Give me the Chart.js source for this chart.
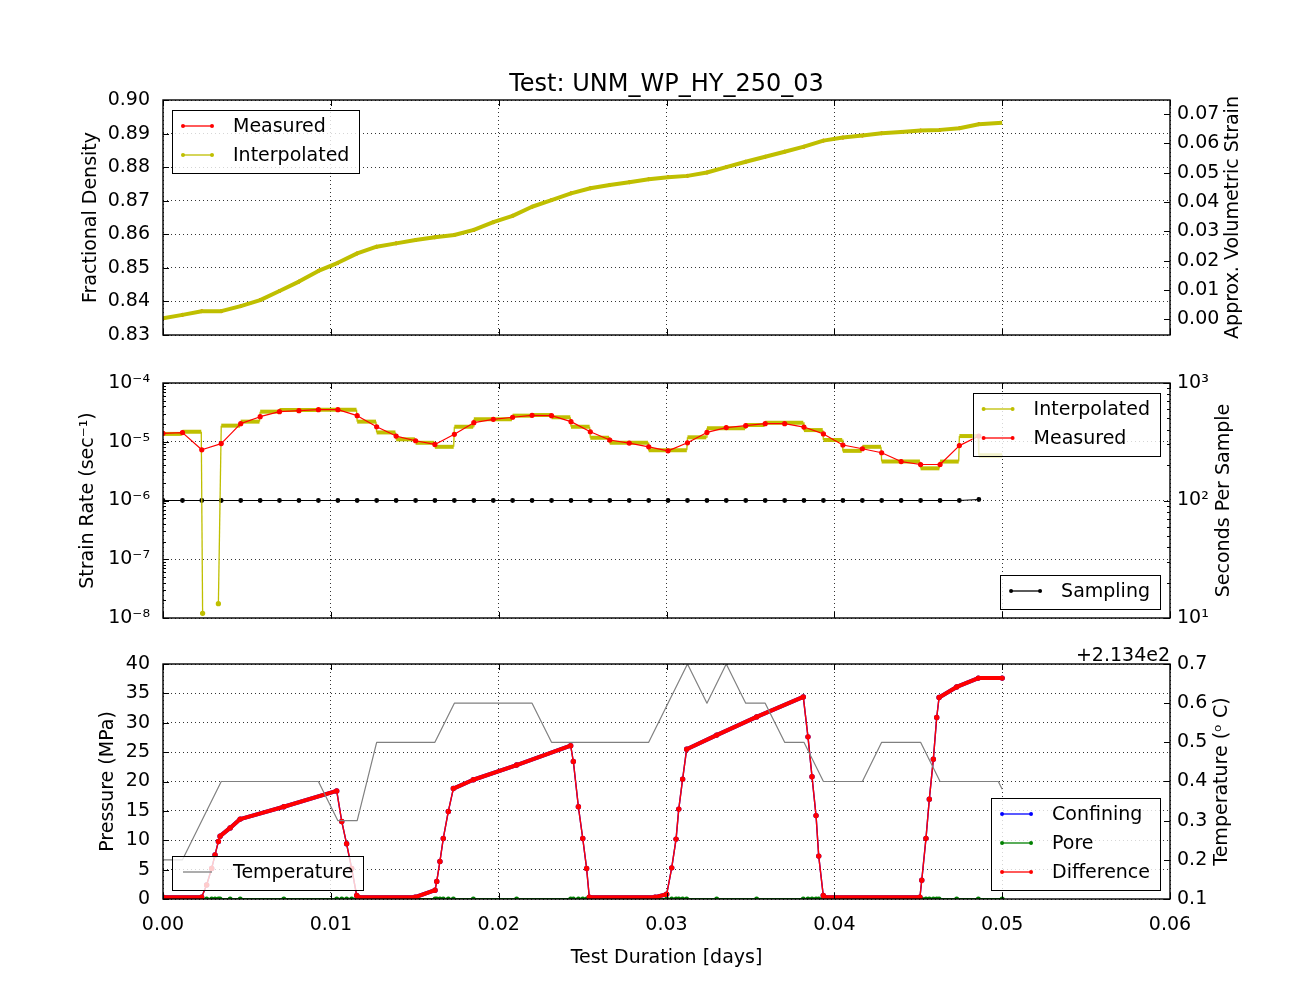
<!DOCTYPE html>
<html lang="en"><head>
<meta charset="utf-8">
<title>Test: UNM_WP_HY_250_03</title>
<script src="https://cdn.jsdelivr.net/npm/chart.js@4.4.0/dist/chart.umd.min.js"></script>
<style>
  body { margin: 0; background: #ffffff; }
  #fig { position: relative; width: 1300px; height: 1000px; background: #ffffff; }
  #fig canvas { position: absolute; left: 0; }
</style>
</head>
<body>
<div id="fig">
  <canvas id="density" width="1300" height="360" style="top:0px"></canvas>
  <canvas id="rate" width="1300" height="300" style="top:350px"></canvas>
  <canvas id="pressure" width="1300" height="370" style="top:630px"></canvas>
</div>
<script>
// ---- data ----
// measured samples (days), one every ~100 s
const timeDays = [0.00000, 0.00116, 0.00231, 0.00347, 0.00463, 0.00579, 0.00694, 0.00810, 0.00926, 0.01042,
                  0.01157, 0.01273, 0.01389, 0.01505, 0.01620, 0.01736, 0.01852, 0.01968, 0.02083, 0.02199,
                  0.02315, 0.02431, 0.02546, 0.02662, 0.02778, 0.02894, 0.03009, 0.03125, 0.03241, 0.03356,
                  0.03472, 0.03588, 0.03704, 0.03819, 0.03935, 0.04051, 0.04167, 0.04282, 0.04398, 0.04514,
                  0.04630, 0.04745, 0.04861];

// top panel: fractional density
const densityMeasured = [0.8350, 0.8360, 0.8371, 0.8371, 0.8386, 0.8404, 0.8431, 0.8459, 0.8491, 0.8515,
                         0.8543, 0.8563, 0.8573, 0.8583, 0.8591, 0.8598, 0.8613, 0.8636, 0.8655, 0.8682,
                         0.8702, 0.8722, 0.8737, 0.8747, 0.8755, 0.8764, 0.8770, 0.8774, 0.8784, 0.8800,
                         0.8816, 0.8831, 0.8846, 0.8861, 0.8879, 0.8888, 0.8894, 0.8901, 0.8905, 0.8909,
                         0.8911, 0.8916, 0.8928];
const densityTailTime = [0.05000];
const densityTail = [0.8932];

// middle panel: strain rate (1/s)
const strainRateMeasured = [1.39e-5, 1.43e-5, 7.3e-6, 9.3e-6, 2.03e-5, 2.67e-5, 3.25e-5, 3.38e-5, 3.52e-5, 3.52e-5,
                            2.78e-5, 1.80e-5, 1.25e-5, 1.04e-5, 9.0e-6, 1.34e-5, 2.11e-5, 2.41e-5, 2.61e-5, 2.82e-5,
                            2.78e-5, 2.20e-5, 1.48e-5, 1.07e-5, 9.5e-6, 8.2e-6, 7.0e-6, 9.6e-6, 1.44e-5, 1.74e-5,
                            1.88e-5, 2.03e-5, 2.03e-5, 1.78e-5, 1.36e-5, 8.8e-6, 7.6e-6, 6.5e-6, 4.6e-6, 4.1e-6,
                            4.1e-6, 8.6e-6, 1.25e-5];
// interpolated strain rate: flat steps between samples
const plateauStart = [0.00000, 0.00116, 0.00347, 0.00463, 0.00579, 0.00694, 0.00926, 0.01157, 0.01273, 0.01389,
                      0.01505, 0.01620, 0.01736, 0.01852, 0.02083, 0.02199, 0.02315, 0.02431, 0.02546, 0.02662,
                      0.02894, 0.03125, 0.03241, 0.03472, 0.03588, 0.03819, 0.03935, 0.04051, 0.04167, 0.04282,
                      0.04514, 0.04630, 0.04745, 0.04861];
const plateauEnd = [0.00112, 0.00228, 0.00459, 0.00575, 0.00690, 0.00922, 0.01153, 0.01269, 0.01385, 0.01501,
                    0.01616, 0.01732, 0.01848, 0.02079, 0.02195, 0.02311, 0.02427, 0.02542, 0.02658, 0.02890,
                    0.03121, 0.03237, 0.03468, 0.03584, 0.03815, 0.03931, 0.04047, 0.04163, 0.04278, 0.04510,
                    0.04626, 0.04741, 0.04857, 0.05000];
const plateauRate = [1.36e-5, 1.48e-5, 1.88e-5, 2.20e-5, 3.25e-5, 3.47e-5, 3.52e-5, 2.20e-5, 1.44e-5, 1.10e-5,
                     9.6e-6, 8.2e-6, 1.80e-5, 2.41e-5, 2.78e-5, 2.85e-5, 2.61e-5, 1.80e-5, 1.17e-5, 9.6e-6,
                     7.2e-6, 1.19e-5, 1.69e-5, 1.93e-5, 2.11e-5, 1.58e-5, 1.07e-5, 7.0e-6, 8.2e-6, 4.6e-6,
                     3.53e-6, 4.6e-6, 1.25e-5, 5.9e-6];
const spikeTimes = [0.00236, 0.00330];
const spikeRates = [1.2e-8, 1.75e-8];
const spikeAfterPlateau = 1;
// seconds per sample
const samplingSec = [100, 100, 100, 100, 100, 100, 100, 100, 100, 100,
                     100, 100, 100, 100, 100, 100, 100, 100, 100, 100,
                     100, 100, 100, 100, 100, 100, 100, 100, 100, 100,
                     100, 100, 100, 100, 100, 100, 100, 100, 100, 100,
                     100, 100, 102];

// bottom panel: pressures (MPa)
const pressureTimes = [0.00000, 0.00230, 0.00260, 0.00290, 0.00310, 0.00330, 0.00340, 0.00400, 0.00460, 0.00720,
                       0.01035, 0.01065, 0.01094, 0.01124, 0.01154, 0.01164, 0.01502, 0.01621, 0.01631, 0.01650,
                       0.01670, 0.01700, 0.01730, 0.01849, 0.02107, 0.02429, 0.02445, 0.02475, 0.02501, 0.02524,
                       0.02540, 0.02932, 0.03001, 0.03031, 0.03057, 0.03073, 0.03096, 0.03120, 0.03299, 0.03537,
                       0.03815, 0.03843, 0.03867, 0.03891, 0.03907, 0.03934, 0.03940, 0.04510, 0.04521, 0.04546,
                       0.04566, 0.04590, 0.04610, 0.04624, 0.04729, 0.04858, 0.05000];
const pressureConfining = [0.3, 0.3, 2.4, 5.2, 7.5, 9.8, 10.7, 12.1, 13.6, 15.7,
                           18.4, 13.2, 9.4, 5.2, 0.6, 0.3, 0.3, 1.5, 3.0, 6.4,
                           10.3, 14.9, 18.8, 20.3, 22.8, 26.1, 23.4, 15.7, 10.3, 5.2,
                           0.3, 0.3, 0.8, 5.3, 10.2, 15.3, 20.4, 25.5, 27.9, 31.0,
                           34.4, 27.6, 20.8, 14.2, 7.3, 0.6, 0.3, 0.3, 3.2, 10.3,
                           17.0, 23.8, 30.9, 34.3, 36.1, 37.6, 37.6];
const pressurePore = [0, 0, 0, 0, 0, 0, 0, 0, 0, 0,
                      0, 0, 0, 0, 0, 0, 0, 0, 0, 0,
                      0, 0, 0, 0, 0, 0, 0, 0, 0, 0,
                      0, 0, 0, 0, 0, 0, 0, 0, 0, 0,
                      0, 0, 0, 0, 0, 0, 0, 0, 0, 0,
                      0, 0, 0, 0, 0, 0, 0];
const pressureDiff = [0.3, 0.3, 2.4, 5.2, 7.5, 9.8, 10.7, 12.1, 13.6, 15.7,
                      18.4, 13.2, 9.4, 5.2, 0.6, 0.3, 0.3, 1.5, 3.0, 6.4,
                      10.3, 14.9, 18.8, 20.3, 22.8, 26.1, 23.4, 15.7, 10.3, 5.2,
                      0.3, 0.3, 0.8, 5.3, 10.2, 15.3, 20.4, 25.5, 27.9, 31.0,
                      34.4, 27.6, 20.8, 14.2, 7.3, 0.6, 0.3, 0.3, 3.2, 10.3,
                      17.0, 23.8, 30.9, 34.3, 36.1, 37.6, 37.6];
// temperature (deg C)
const tempTailTimes = [0.04977, 0.05000];
const temperatureC = [213.6, 213.6, 213.7, 213.8, 213.8, 213.8, 213.8, 213.8, 213.8, 213.7,
                      213.7, 213.9, 213.9, 213.9, 213.9, 214.0, 214.0, 214.0, 214.0, 214.0,
                      213.9, 213.9, 213.9, 213.9, 213.9, 213.9, 214.0, 214.1, 214.0, 214.1,
                      214.0, 214.0, 213.9, 213.9, 213.8, 213.8, 213.8, 213.9, 213.9, 213.9,
                      213.8, 213.8, 213.8, 213.8, 213.78];

// tick values
const xTicks = [0, 0.01, 0.02, 0.03, 0.04, 0.05, 0.06];
const densityTicks = [0.83, 0.84, 0.85, 0.86, 0.87, 0.88, 0.89, 0.90];
const strainTicks = [0, 0.01, 0.02, 0.03, 0.04, 0.05, 0.06, 0.07];
const rateTicks = [1e-8, 1e-7, 1e-6, 1e-5, 1e-4];
const sampleTicks = [10, 100, 1000];
const pressureTicks = [0, 5, 10, 15, 20, 25, 30, 35, 40];
const tempTicks = [213.5, 213.6, 213.7, 213.8, 213.9, 214.0, 214.1];
const tempOffset = 213.4;

// ---- styling ----
const FONT = '19px "DejaVu Sans", sans-serif';
const RED = '#ff0000', YEL = '#bfbf00', BLUE = '#0000ff', GREEN = '#008000', GRAY = '#808080';
Chart.defaults.font.family = '"DejaVu Sans", sans-serif';
Chart.defaults.font.size = 19;
Chart.defaults.color = '#000000';

const SUP = {'-': '\u207b', '0': '\u2070', '1': '\u00b9', '2': '\u00b2', '3': '\u00b3', '4': '\u2074',
             '5': '\u2075', '6': '\u2076', '7': '\u2077', '8': '\u2078', '9': '\u2079'};
function pow10Label(v) {
  const e = Math.round(Math.log10(v));
  return '10' + String(e).split('').map(c => SUP[c]).join('');
}
const pts = (xs, ys) => xs.map((x, i) => ({x: x, y: ys[i]}));

// matplotlib-like frame, inward ticks, legends, twin-axis title
const decorPlugin = {
  id: 'decor',
  afterDatasetsDraw(chart, args, opts) {
    const {ctx, chartArea: a, scales} = chart;
    const seg = (x1, y1, x2, y2) => { ctx.beginPath(); ctx.moveTo(x1, y1); ctx.lineTo(x2, y2); ctx.stroke(); };
    ctx.save();
    ctx.strokeStyle = '#000';
    ctx.lineWidth = 1;
    scales.x.ticks.forEach(t => {
      const px = Math.round(scales.x.getPixelForValue(t.value)) + 0.5;
      seg(px, a.bottom, px, a.bottom - 6);
      seg(px, a.top, px, a.top + 6);
    });
    Object.values(scales).forEach(s => {
      if (s.axis !== 'y') return;
      const left = s.position === 'left';
      const x0 = left ? a.left : a.right, dir = left ? 1 : -1;
      s.ticks.forEach(t => {
        const py = Math.round(s.getPixelForValue(t.value)) + 0.5;
        seg(x0, py, x0 + 6 * dir, py);
      });
      if (s.type === 'logarithmic') {
        for (let e = Math.round(Math.log10(s.min)); e < Math.round(Math.log10(s.max)); e++) {
          for (let m = 2; m <= 9; m++) {
            const py = Math.round(s.getPixelForValue(m * Math.pow(10, e))) + 0.5;
            seg(x0, py, x0 + 3 * dir, py);
          }
        }
      }
    });
    ctx.lineWidth = 1.4;
    ctx.strokeRect(a.left, a.top, a.width, a.height);

    ctx.font = FONT;
    ctx.fillStyle = '#000';
    if (opts.rightTitle) {
      ctx.save();
      ctx.translate(a.right + opts.rightTitle.offset, (a.top + a.bottom) / 2);
      ctx.rotate(-Math.PI / 2);
      ctx.textAlign = 'center';
      ctx.textBaseline = 'middle';
      ctx.fillText(opts.rightTitle.text, 0, 0);
      ctx.restore();
    }
    if (opts.offsetText) {
      ctx.textAlign = 'right';
      ctx.textBaseline = 'alphabetic';
      ctx.fillText(opts.offsetText, a.right, a.top - 3);
    }

    (opts.legends || []).forEach(lg => {
      const items = lg.items.map(i => chart.data.datasets[i]);
      ctx.font = FONT;
      const textW = Math.max(...items.map(d => ctx.measureText(d.label).width));
      const w = 61 + textW + 10, h = items.length * 29 + 5;
      const left = lg.corner[1] === 'l' ? a.left + 9 : a.right - 10 - w;
      const top = lg.corner[0] === 't' ? a.top + 10 : a.bottom - 9 - h;
      ctx.fillStyle = 'rgba(255,255,255,0.8)';
      ctx.fillRect(left, top, w, h);
      ctx.strokeStyle = '#000';
      ctx.lineWidth = 1;
      ctx.strokeRect(Math.round(left) + 0.5, Math.round(top) + 0.5, Math.round(w), Math.round(h));
      items.forEach((d, i) => {
        const cy = top + 16 + i * 29;
        ctx.strokeStyle = d.borderColor;
        ctx.lineWidth = 1.3;
        seg(left + 11, cy, left + 40, cy);
        if (d.legendDots) {
          ctx.fillStyle = d.borderColor;
          [left + 11, left + 40].forEach(px => { ctx.beginPath(); ctx.arc(px, cy, 2, 0, 2 * Math.PI); ctx.fill(); });
        }
        ctx.fillStyle = '#000';
        ctx.textAlign = 'left';
        ctx.textBaseline = 'middle';
        ctx.fillText(d.label, left + 61, cy + 1);
      });
    });
    ctx.restore();
  }
};

function xScale(showLabels, height) {
  return {
    type: 'linear', min: 0, max: 0.06,
    afterBuildTicks: s => { s.ticks = xTicks.map(v => ({value: v})); },
    afterFit: s => { s.height = height; },
    ticks: { display: showLabels, padding: 15, autoSkip: false, maxRotation: 0, callback: v => v.toFixed(2) },
    grid: { color: '#000', lineWidth: 0.8, drawTicks: false },
    border: { display: false, dash: [1, 3] },
    title: { display: showLabels, text: 'Test Duration [days]', padding: {top: 4, bottom: 4} }
  };
}
function yScale(opt) {
  const left = opt.position === 'left';
  return {
    type: opt.type || 'linear', position: opt.position, min: opt.min, max: opt.max,
    afterBuildTicks: s => { s.ticks = opt.ticks.map(v => ({value: v})); },
    afterFit: s => { s.width = opt.width; },
    ticks: { padding: left ? 13 : 7, autoSkip: false, callback: opt.label },
    grid: { display: left, color: '#000', lineWidth: 0.8, drawTicks: false },
    border: { display: false, dash: [1, 3] },
    title: { display: left && !!opt.title, text: opt.title, padding: {top: 4, bottom: 4} }
  };
}
const baseOptions = (extra) => Object.assign({
  responsive: false, animation: false, events: [],
  elements: { line: { tension: 0, borderJoinStyle: 'round' }, point: { borderWidth: 0, hoverRadius: 0 } }
}, extra);

// ---- top: fractional density ----
new Chart(document.getElementById('density'), {
  type: 'line',
  data: { datasets: [
    { label: 'Measured', data: pts(timeDays, densityMeasured), borderColor: RED, backgroundColor: RED,
      pointBackgroundColor: RED, borderWidth: 1, pointRadius: 1.5, order: 1, legendDots: true },
    { label: 'Interpolated', data: pts(timeDays.concat(densityTailTime), densityMeasured.concat(densityTail)),
      borderColor: YEL, backgroundColor: YEL, pointBackgroundColor: YEL, borderWidth: 4, pointRadius: 0,
      order: 0, legendDots: true }
  ]},
  options: baseOptions({
    layout: { padding: { left: 75.6, right: 0, top: 72, bottom: 0 } },
    scales: {
      x: xScale(false, 25),
      y: yScale({ position: 'left', min: 0.83, max: 0.90, ticks: densityTicks, width: 87.4,
                  label: v => v.toFixed(2), title: 'Fractional Density' }),
      y1: yScale({ position: 'right', min: -0.00535, max: 0.07477, ticks: strainTicks, width: 130,
                   label: v => v.toFixed(2) })
    },
    plugins: {
      legend: { display: false }, tooltip: { enabled: false },
      title: { display: true, text: 'Test: UNM_WP_HY_250_03', fullSize: false, color: '#000',
               font: { size: 24, weight: 'normal', lineHeight: 1.1 }, padding: { top: 0, bottom: 1.6 } },
      decor: { rightTitle: { text: 'Approx. Volumetric Strain', offset: 63 }, legends: [{ corner: 'tl', items: [0, 1] }] }
    }
  }),
  plugins: [decorPlugin]
});

// ---- middle: strain rate ----
const interpPoints = [];
plateauStart.forEach((s, i) => {
  interpPoints.push({x: s, y: plateauRate[i]}, {x: plateauEnd[i], y: plateauRate[i]});
  if (i === spikeAfterPlateau) {
    interpPoints.push({x: spikeTimes[0], y: spikeRates[0]}, {x: spikeTimes[0], y: null},
                      {x: spikeTimes[1], y: spikeRates[1]});
  }
});
new Chart(document.getElementById('rate'), {
  type: 'line',
  data: { datasets: [
    { label: 'Interpolated', data: interpPoints, borderColor: YEL, backgroundColor: YEL, pointBackgroundColor: YEL,
      borderWidth: 1.3, spanGaps: false, order: 1, legendDots: true,
      pointRadius: c => (c.raw && c.raw.y !== null && c.raw.y < 1e-7) ? 2 : 0,
      segment: { borderWidth: c => c.p0.parsed.y === c.p1.parsed.y ? 4 : 1.3 } },
    { label: 'Measured', data: pts(timeDays, strainRateMeasured), borderColor: RED, backgroundColor: RED,
      pointBackgroundColor: RED, borderWidth: 1.2, pointRadius: 2, order: 0, legendDots: true },
    { label: 'Sampling', yAxisID: 'y1', data: pts(timeDays, samplingSec), borderColor: '#000', backgroundColor: '#000',
      pointBackgroundColor: '#000', borderWidth: 1.2, pointRadius: 1.8, order: 2, legendDots: true }
  ]},
  options: baseOptions({
    layout: { padding: { left: 72.6, right: 0, top: 33, bottom: 0 } },
    scales: {
      x: xScale(false, 32),
      y: yScale({ type: 'logarithmic', position: 'left', min: 1e-8, max: 1e-4, ticks: rateTicks, width: 90.4,
                  label: pow10Label, title: 'Strain Rate (sec\u207b\u00b9)' }),
      y1: yScale({ type: 'logarithmic', position: 'right', min: 10, max: 1000, ticks: sampleTicks, width: 130,
                   label: pow10Label })
    },
    plugins: {
      legend: { display: false }, tooltip: { enabled: false },
      decor: { rightTitle: { text: 'Seconds Per Sample', offset: 54 },
               legends: [{ corner: 'tr', items: [0, 1] }, { corner: 'br', items: [2] }] }
    }
  }),
  plugins: [decorPlugin]
});

// ---- bottom: pressure and temperature ----
const steepThin = c => Math.abs(c.p1.y - c.p0.y) > 2 * Math.abs(c.p1.x - c.p0.x) ? 1.4 : 4;
new Chart(document.getElementById('pressure'), {
  type: 'line',
  data: { datasets: [
    { label: 'Confining', data: pts(pressureTimes, pressureConfining), borderColor: BLUE, backgroundColor: BLUE,
      pointBackgroundColor: BLUE, borderWidth: 1.4, pointRadius: 2, order: 3, legendDots: true,
      segment: { borderWidth: steepThin } },
    { label: 'Pore', data: pts(pressureTimes, pressurePore), borderColor: GREEN, backgroundColor: GREEN,
      pointBackgroundColor: GREEN, borderWidth: 2, pointRadius: 1.5, order: 2, legendDots: true },
    { label: 'Difference', data: pts(pressureTimes, pressureDiff), borderColor: RED, backgroundColor: RED,
      pointBackgroundColor: RED, borderWidth: 1.4, pointRadius: 2, order: 1, legendDots: true,
      segment: { borderWidth: steepThin } },
    { label: 'Temperature', yAxisID: 'y1', data: pts(timeDays.concat(tempTailTimes), temperatureC),
      borderColor: GRAY, backgroundColor: GRAY, borderWidth: 1.2, pointRadius: 0, order: 0, legendDots: false }
  ]},
  options: baseOptions({
    layout: { padding: { left: 93.1, right: 0, top: 34, bottom: 26.6 } },
    scales: {
      x: xScale(true, 74.4),
      y: yScale({ position: 'left', min: 0, max: 40, ticks: pressureTicks, width: 69.9,
                  label: v => String(v), title: 'Pressure (MPa)' }),
      y1: yScale({ position: 'right', min: 213.5, max: 214.1, ticks: tempTicks, width: 130,
                   label: v => (v - tempOffset).toFixed(1) })
    },
    plugins: {
      legend: { display: false }, tooltip: { enabled: false },
      decor: { rightTitle: { text: 'Temperature (\u1d52 C)', offset: 52 }, offsetText: '+2.134e2',
               legends: [{ corner: 'bl', items: [3] }, { corner: 'br', items: [0, 1, 2] }] }
    }
  }),
  plugins: [decorPlugin]
});
</script>
</body></html>
